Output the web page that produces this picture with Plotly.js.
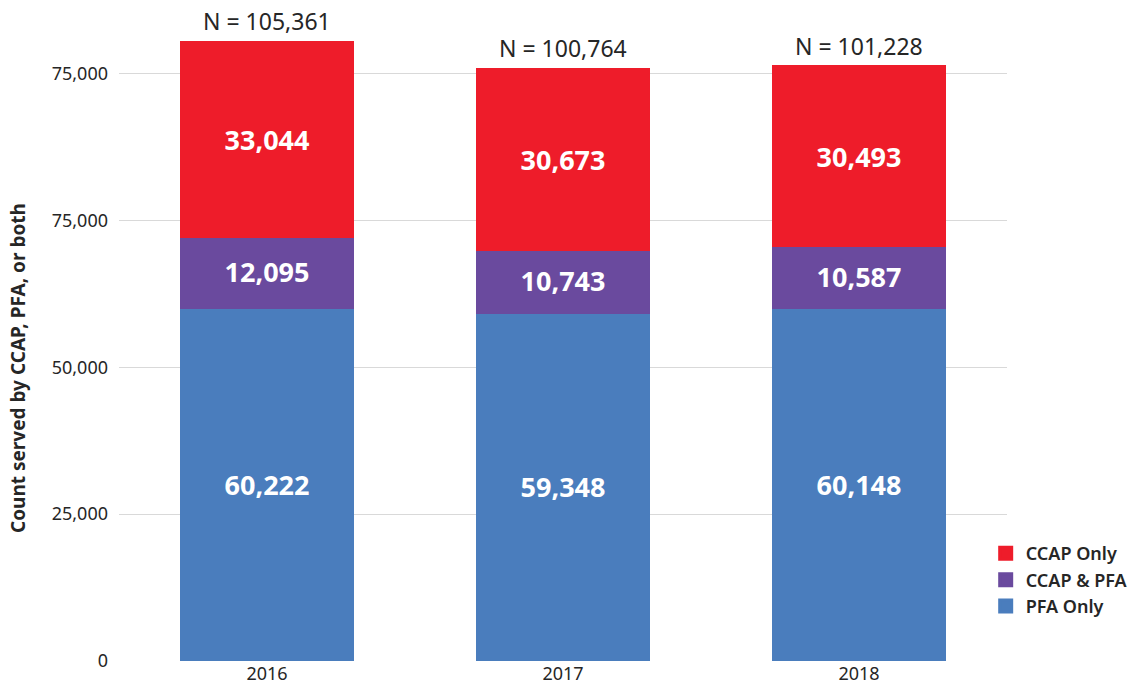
<!DOCTYPE html>
<html>
<head>
<meta charset="utf-8">
<script src="https://cdn.plot.ly/plotly-3.0.1.min.js"></script>
<style>html,body{margin:0;padding:0;background:#fff;}#chart{width:1146px;height:697px;}</style>
</head>
<body>
<div id="chart"></div>
<script>
const years = ['2016', '2017', '2018'];
const pfaOnly = [60222, 59348, 60148];
const ccapAndPfa = [12095, 10743, 10587];
const ccapOnly = [33044, 30673, 30493];
const seriesNames = ['PFA Only', 'CCAP & PFA', 'CCAP Only'];
const tickValues = [0, 25000, 50000, 75000, 100000];
const tickLabels = ['0', '25,000', '50,000', '75,000', '75,000'];
const yTitle = 'Count served by CCAP, PFA, or both';

const colors = ['#4A7DBD', '#6A4A9E', '#EE1C2A'];
const FONT = 'Noto Sans, sans-serif';
const TXT = '#262626';

const seriesData = [pfaOnly, ccapAndPfa, ccapOnly];
const traces = seriesData.map((vals, i) => ({
  type: 'bar',
  name: seriesNames[i],
  x: years,
  y: vals,
  marker: {color: colors[i], line: {width: 3, color: colors[i]}},
  texttemplate: '%{y:,}',
  textposition: 'inside',
  insidetextanchor: 'middle',
  textangle: 0,
  constraintext: 'none',
  textfont: {family: FONT, size: 27, color: '#ffffff', weight: 700},
  hoverinfo: 'skip'
}));

const totals = years.map((_, i) => pfaOnly[i] + ccapAndPfa[i] + ccapOnly[i]);
const annotations = years.map((yr, i) => ({
  x: i, y: totals[i], xref: 'x', yref: 'y',
  text: 'N = ' + totals[i].toLocaleString('en-US'),
  showarrow: false, yanchor: 'bottom', yshift: 3,
  font: {family: FONT, size: 23, color: TXT}
}));
annotations.push({
  xref: 'paper', yref: 'paper', x: -0.1137, y: 0.4536,
  xanchor: 'center', yanchor: 'middle', textangle: -90,
  text: yTitle, showarrow: false,
  font: {family: FONT, size: 19, color: TXT, weight: 700}
});

const layout = {
  width: 1146, height: 697,
  margin: {l: 119, r: 139, t: 15, b: 36},
  paper_bgcolor: '#ffffff', plot_bgcolor: '#ffffff',
  barmode: 'stack',
  bargap: 0.422,
  font: {family: FONT, color: TXT},
  showlegend: true,
  legend: {
    x: 0.976, xanchor: 'left', y: 0.195, yanchor: 'top',
    traceorder: 'reversed',
    font: {family: FONT, size: 18, color: TXT, weight: 600},
    itemclick: false, bgcolor: 'rgba(0,0,0,0)'
  },
  xaxis: {
    type: 'category',
    showgrid: false, zeroline: false, showline: false, ticks: '',
    tickfont: {family: FONT, size: 18, color: TXT}
  },
  yaxis: {
    range: [0, 110000],
    tickmode: 'array', tickvals: tickValues, ticktext: tickLabels,
    showgrid: true, gridcolor: '#d9d9d9', gridwidth: 1,
    zeroline: false, showline: false, ticks: '',
    ticklabelstandoff: 10,
    tickfont: {family: FONT, size: 18, color: TXT}
  },
  annotations: annotations
};

Plotly.newPlot('chart', traces, layout, {staticPlot: true, displayModeBar: false});
</script>
</body>
</html>
